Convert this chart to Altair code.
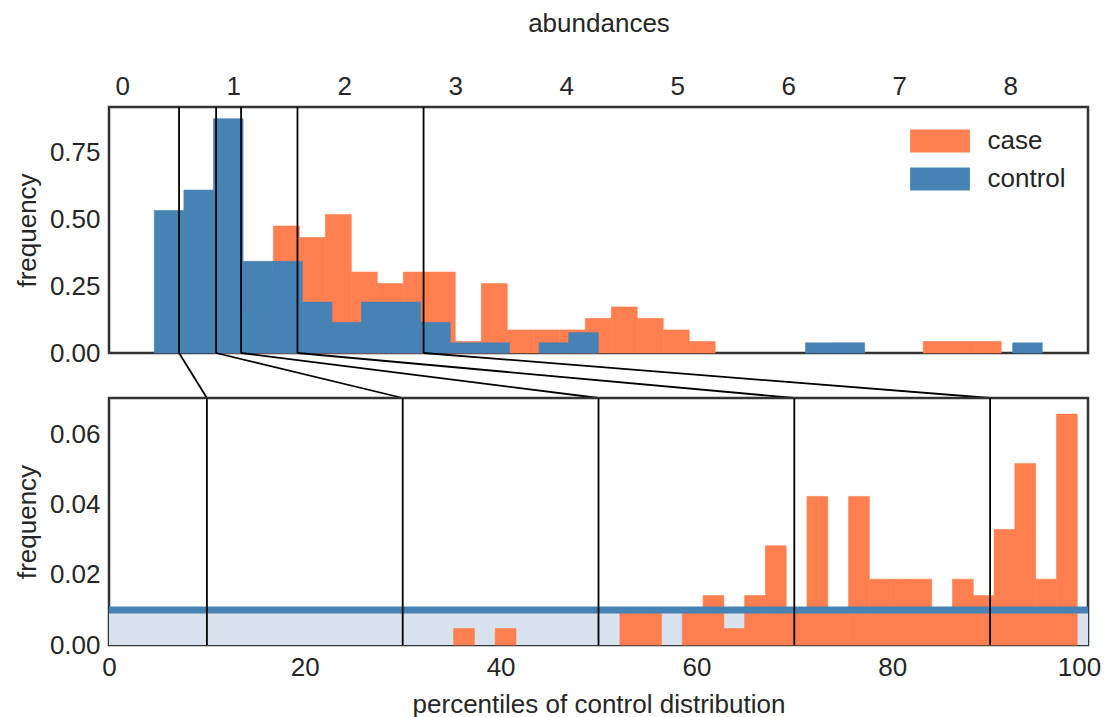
import altair as alt
import pandas as pd

FONT = "Liberation Sans"
TXT = "#262626"
CORAL = "#ff7f50"
BLUE = "#4682b4"
LIGHT = "#d8e2ec"
FRAME = "#333333"
FS = 26

# ---------------- top panel (abundances) ----------------
top_x_domain = [-0.12, 8.70]
top_x_ticks = [0, 1, 2, 3, 4, 5, 6, 7, 8]
top_y_domain = [0, 0.918]
top_y_ticks = [0.0, 0.25, 0.50, 0.75]

# control histogram: 30 equal bins between these edges
control_lo, control_hi = 0.288, 8.288
control_heights = [0.532, 0.608, 0.874, 0.342, 0.342, 0.190, 0.114, 0.190, 0.190, 0.114,
                   0.038, 0.038, 0.0, 0.038, 0.076, 0.0, 0.0, 0.0, 0.0, 0.0,
                   0.0, 0.0, 0.038, 0.038, 0.0, 0.0, 0.0, 0.0, 0.0, 0.038]

# case histogram: 30 equal bins between these edges
case_lo, case_hi = 0.892, 7.918
case_heights = [0.172, 0.302, 0.474, 0.431, 0.517, 0.302, 0.259, 0.302, 0.302, 0.043,
                0.259, 0.086, 0.086, 0.086, 0.129, 0.172, 0.129, 0.086, 0.043, 0.0,
                0.0, 0.0, 0.0, 0.0, 0.0, 0.0, 0.0, 0.043, 0.043, 0.043]

# control percentiles (10,30,50,70,90) expressed in abundances
pct_levels = [10, 30, 50, 70, 90]
pct_abundances = [0.511, 0.845, 1.070, 1.578, 2.714]

# ---------------- bottom panel (percentiles) ----------------
bot_x_domain = [0, 100]
bot_x_ticks = [0, 20, 40, 60, 80, 100]
bot_y_domain = [0, 0.0705]
bot_y_ticks = [0.0, 0.02, 0.04, 0.06]

case_pct_lo, case_pct_hi = 35.2, 98.9
case_pct_heights = [0.0047, 0.0, 0.0047, 0.0, 0.0, 0.0, 0.0, 0.0, 0.0094, 0.0094,
                    0.0, 0.0094, 0.0141, 0.0047, 0.0141, 0.0283, 0.0094, 0.0424, 0.0094, 0.0424,
                    0.0188, 0.0188, 0.0188, 0.0094, 0.0188, 0.0141, 0.0330, 0.0518, 0.0188, 0.0659]
control_pct_level = 0.01

PLOT_W = 979
TOP_H = 246
GAP_H = 45
BOT_H = 247


def bins_df(lo, hi, heights, group):
    n = len(heights)
    w = (hi - lo) / n
    rows = [(lo + i * w, lo + (i + 1) * w, h) for i, h in enumerate(heights) if h > 0]
    return pd.DataFrame({
        "start": [r[0] for r in rows],
        "end": [r[1] for r in rows],
        "height": [r[2] for r in rows],
        "group": group,
    })


top_df = pd.concat([bins_df(case_lo, case_hi, case_heights, "case"),
                    bins_df(control_lo, control_hi, control_heights, "control")],
                   ignore_index=True)

top_xscale = alt.Scale(domain=top_x_domain, nice=False, zero=False)
top_yscale = alt.Scale(domain=top_y_domain, nice=False)

color = alt.Color(
    "group:N",
    scale=alt.Scale(domain=["case", "control"], range=[CORAL, BLUE]),
    legend=alt.Legend(
        title=None, orient="none", legendX=818, legendY=21, padding=0,
        symbolType="M-2.6,-1H2.6V1H-2.6Z", symbolSize=529,
        symbolStrokeWidth=0, symbolOpacity=1,
        labelFont=FONT, labelFontSize=FS, labelColor=TXT,
        labelOffset=34.5, rowPadding=12,
    ),
)

top_x = alt.X("start:Q", scale=top_xscale,
              axis=alt.Axis(orient="top", values=top_x_ticks, format="d", labelFlush=False,
                            title="abundances", labelPadding=8, titlePadding=37))
top_y = alt.Y("height:Q", scale=top_yscale,
              axis=alt.Axis(values=top_y_ticks, format=".2f", title="frequency",
                            labelPadding=9, titlePadding=9))

case_bars = alt.Chart(top_df).transform_filter(alt.datum.group == "case").mark_rect(
    stroke=CORAL, strokeWidth=0.6).encode(x=top_x, x2="end:Q", y=top_y, y2=alt.datum(0), color=color)
control_bars = alt.Chart(top_df).transform_filter(alt.datum.group == "control").mark_rect(
    stroke=BLUE, strokeWidth=0.6).encode(x=top_x, x2="end:Q", y=top_y, y2=alt.datum(0), color=color)

lines_df = pd.DataFrame({"abund": pct_abundances, "pct": pct_levels})
top_rules = alt.Chart(lines_df).mark_rule(color="black", strokeWidth=1.8).encode(
    x=alt.X("abund:Q", scale=top_xscale))

top = alt.layer(case_bars, control_bars, top_rules).properties(width=PLOT_W, height=TOP_H)

# ---------------- connectors ----------------
span = top_x_domain[1] - top_x_domain[0]
mid = alt.Chart(lines_df).transform_calculate(
    xt=f"(datum.abund - ({top_x_domain[0]})) / {span} * 100"
).mark_rule(color="black", strokeWidth=1.8).encode(
    x=alt.X("xt:Q", scale=alt.Scale(domain=bot_x_domain, nice=False), axis=None),
    x2="pct:Q",
    y=alt.YDatum(1, scale=alt.Scale(domain=[0, 1], nice=False), axis=None),
    y2=alt.Y2Datum(0),
).properties(width=PLOT_W, height=GAP_H, view=alt.ViewBackground(strokeOpacity=0))

# ---------------- bottom panel ----------------
bot_df = bins_df(case_pct_lo, case_pct_hi, case_pct_heights, "case")
ctrl_df = pd.DataFrame({"x0": [bot_x_domain[0]], "x1": [bot_x_domain[1]], "level": [control_pct_level]})

bot_xscale = alt.Scale(domain=bot_x_domain, nice=False, zero=False)
bot_yscale = alt.Scale(domain=bot_y_domain, nice=False)

bot_x_axis = alt.Axis(
    values=bot_x_ticks, format="d", title="percentiles of control distribution",
    labelFlush=False, labelPadding=9, titlePadding=11,
    labelOffset={"condition": {"test": "datum.value == 100", "value": -9}, "value": 0},
)
bot_y_axis = alt.Axis(values=bot_y_ticks, format=".2f", title="frequency",
                      labelPadding=9, titlePadding=9)

fill = alt.Chart(ctrl_df).mark_rect(color=LIGHT, strokeWidth=0).encode(
    x=alt.X("x0:Q", scale=bot_xscale, axis=bot_x_axis), x2="x1:Q",
    y=alt.Y("level:Q", scale=bot_yscale, axis=bot_y_axis), y2=alt.datum(0))
case_pct_bars = alt.Chart(bot_df).mark_rect(color=CORAL, stroke=CORAL, strokeWidth=0.6).encode(
    x=alt.X("start:Q", scale=bot_xscale), x2="end:Q",
    y=alt.Y("height:Q", scale=bot_yscale), y2=alt.datum(0))
ctrl_line = alt.Chart(ctrl_df).mark_rule(color=BLUE, strokeWidth=7).encode(
    x=alt.X("x0:Q", scale=bot_xscale), x2="x1:Q",
    y=alt.Y("level:Q", scale=bot_yscale))
bot_rules = alt.Chart(lines_df).mark_rule(color="black", strokeWidth=1.8).encode(
    x=alt.X("pct:Q", scale=bot_xscale))

bottom = alt.layer(fill, case_pct_bars, ctrl_line, bot_rules).properties(width=PLOT_W, height=BOT_H)

chart = alt.vconcat(top, mid, bottom, spacing=0, bounds="flush").resolve_scale(x="independent").properties(
    padding={"left": 5, "top": 0, "right": 0, "bottom": 0},
    background="white",
).configure_view(
    stroke=FRAME, strokeWidth=2.5
).configure_axis(
    labelFont=FONT, labelFontSize=FS, labelColor=TXT,
    titleFont=FONT, titleFontSize=FS, titleColor=TXT, titleFontWeight="normal",
    ticks=False, domain=False, grid=False,
)

chart.save("out.html", embed_options={"renderer": "svg", "actions": False})
